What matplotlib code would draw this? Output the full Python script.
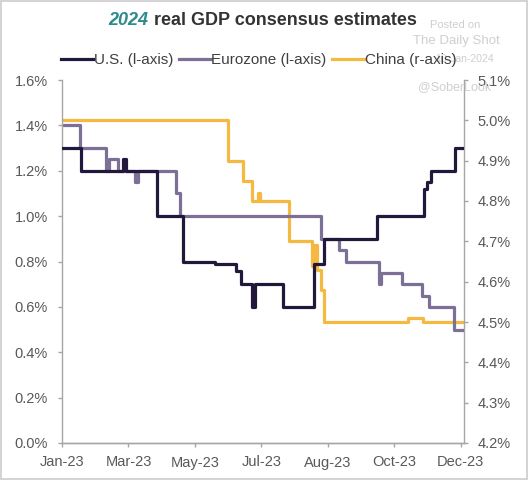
import matplotlib
matplotlib.use("Agg")
import matplotlib.pyplot as plt
import matplotlib.dates as mdates
from matplotlib.patches import Rectangle
from matplotlib.ticker import FuncFormatter
import pandas as pd

plt.rcParams['font.family'] = ['Liberation Sans', 'DejaVu Sans']

# change points of each series (step lines)
us_dates = ['2023-01-02', '2023-01-19', '2023-02-26', '2023-03-01', '2023-03-29',
            '2023-04-21', '2023-05-20', '2023-06-08', '2023-06-13', '2023-06-23',
            '2023-06-25', '2023-07-21', '2023-08-18', '2023-08-27', '2023-10-13',
            '2023-11-25', '2023-11-28', '2023-12-01', '2023-12-23', '2023-12-31']
us_vals = [1.3, 1.2, 1.25, 1.2, 1.0,
           0.8, 0.79, 0.76, 0.7, 0.6,
           0.7, 0.6, 0.79, 0.9, 1.0,
           1.12, 1.15, 1.2, 1.3, 1.3]

ez_dates = ['2023-01-02', '2023-01-18', '2023-02-11', '2023-02-13', '2023-02-22',
            '2023-03-09', '2023-03-12', '2023-04-15', '2023-04-19', '2023-08-24',
            '2023-09-09', '2023-09-15', '2023-10-15', '2023-10-17', '2023-11-05',
            '2023-11-23', '2023-11-29', '2023-12-22', '2023-12-31']
ez_vals = [1.4, 1.3, 1.2, 1.25, 1.2,
           1.15, 1.2, 1.1, 1.0, 0.9,
           0.85, 0.8, 0.7, 0.75, 0.7,
           0.65, 0.6, 0.5, 0.5]

cn_dates = ['2023-01-02', '2023-06-01', '2023-06-14', '2023-06-23', '2023-06-28',
            '2023-06-30', '2023-07-26', '2023-08-16', '2023-08-18', '2023-08-20',
            '2023-08-24', '2023-08-27', '2023-11-10', '2023-11-24', '2023-12-31']
cn_vals = [5.0, 4.9, 4.85, 4.8, 4.82,
           4.8, 4.7, 4.64, 4.69, 4.63,
           4.58, 4.5, 4.51, 4.5, 4.5]

us_color = '#21183c'
ez_color = '#7d7096'
cn_color = '#f5b942'
grey = '#a6a6a6'
text_grey = '#595959'

fig = plt.figure(figsize=(5.28, 4.8), dpi=100)
ax = fig.add_axes([62 / 528, 37 / 480, 402 / 528, 363 / 480])
ax2 = ax.twinx()

l1, = ax.step(pd.to_datetime(us_dates), us_vals, where='post', color=us_color, lw=2.3, zorder=3)
l2, = ax.step(pd.to_datetime(ez_dates), ez_vals, where='post', color=ez_color, lw=2.3, zorder=2)
l3, = ax2.step(pd.to_datetime(cn_dates), cn_vals, where='post', color=cn_color, lw=2.3)
ax.set_zorder(ax2.get_zorder() + 1)
ax.patch.set_visible(False)

ax.set_ylim(0, 1.6)
ax2.set_ylim(4.2, 5.1)
ax.set_yticks([i * 0.2 for i in range(9)])
ax2.set_yticks([4.2 + i * 0.1 for i in range(10)])
ax.yaxis.set_major_formatter(FuncFormatter(lambda v, p: f'{v:.1f}%'))
ax2.yaxis.set_major_formatter(FuncFormatter(lambda v, p: f'{v:.1f}%'))

ax.set_xlim(pd.Timestamp('2023-01-02'), pd.Timestamp('2023-12-31'))
ax.set_xticks(pd.date_range('2023-01-02', periods=7, freq='60D'))
ax.xaxis.set_major_formatter(mdates.DateFormatter('%b-%y'))

for a in (ax, ax2):
    a.spines['top'].set_visible(False)
    for s in ('left', 'right', 'bottom'):
        a.spines[s].set_color(grey)
        a.spines[s].set_linewidth(1.0)
    a.tick_params(colors=grey, labelcolor=text_grey, labelsize=10.5, length=3, width=1)
ax.spines['right'].set_visible(False)
ax2.spines['left'].set_visible(False)
ax.tick_params(axis='y', pad=7)
ax2.tick_params(axis='y', pad=7)
ax.tick_params(axis='x', pad=6)

# watermark
wm = '#cfcfcf'
fig.text(0.862, 0.948, 'Posted on', color=wm, fontsize=8, ha='center', va='center', zorder=0)
fig.text(0.865, 0.915, 'The Daily Shot', color=wm, fontsize=9.5, ha='center', va='center', zorder=0)
fig.text(0.88, 0.878, '10-Jan-2024', color=wm, fontsize=7.5, ha='center', va='center', zorder=0)
fig.text(0.86, 0.818, '@SoberLook', color=wm, fontsize=9, ha='center', va='center', zorder=0)

# title
fig.text(0.281, 0.957, '2024', color='#2e8b8b', fontsize=13, fontweight='bold',
         fontstyle='italic', ha='right', va='center', zorder=5,
         bbox=dict(facecolor='white', edgecolor='none', pad=0))
fig.text(0.283, 0.957, ' real GDP consensus estimates', color='#333333', fontsize=13,
         fontweight='bold', ha='left', va='center', zorder=5,
         bbox=dict(facecolor='white', edgecolor='none', pad=0))

leg = fig.legend([l1, l2, l3], ['U.S. (l-axis)', 'Eurozone (l-axis)', 'China (r-axis)'],
                 loc='center', bbox_to_anchor=(0.49, 0.874), ncol=3, frameon=False,
                 fontsize=11, handlelength=2.1, handletextpad=0.05, columnspacing=0.35)
for t in leg.get_texts():
    t.set_color('#404040')

fig.patches.append(Rectangle((0.002, 0.002), 0.996, 0.996, transform=fig.transFigure,
                             fill=False, edgecolor='#cccccc', lw=1.2))

fig.savefig('out.png', dpi=100)
